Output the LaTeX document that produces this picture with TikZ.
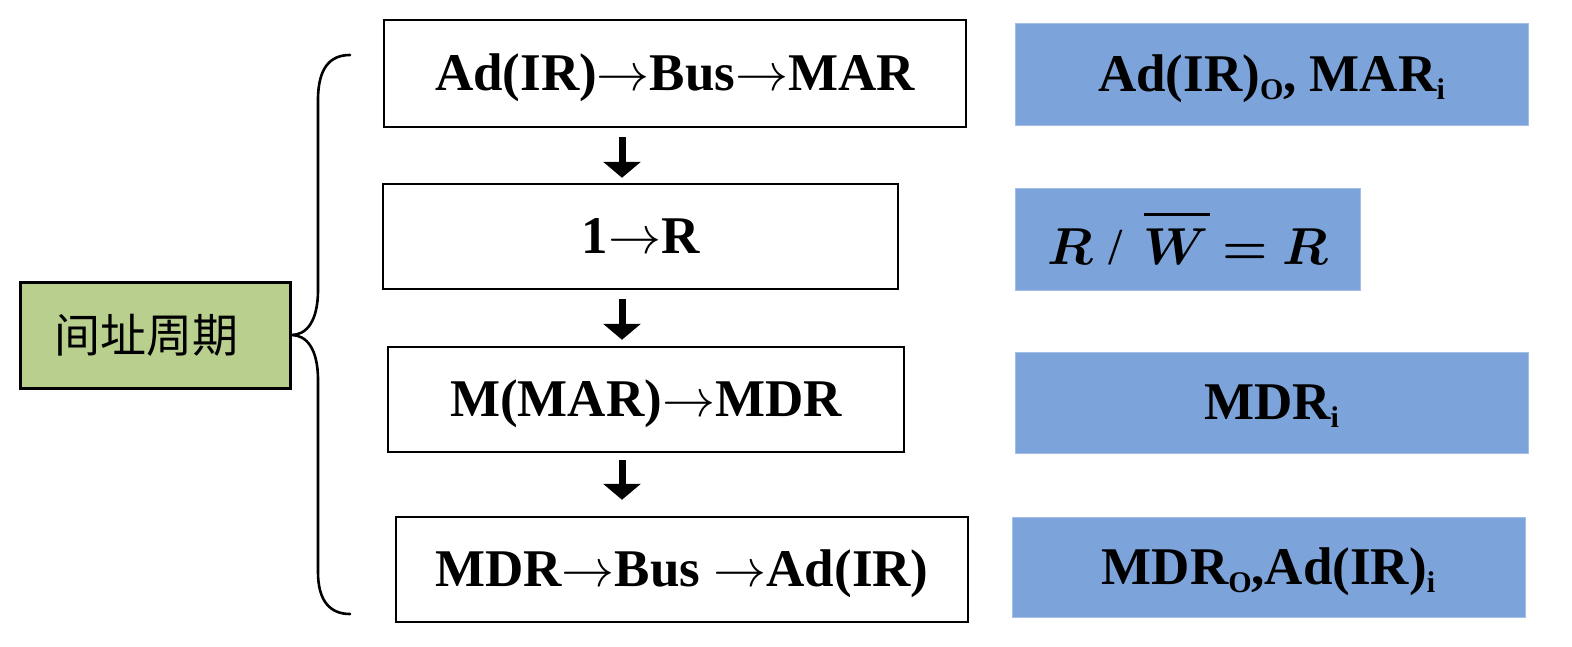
\RequirePackage{fix-cm}
\documentclass[tikz,border=0pt]{standalone}
\usepackage{fontspec}
\setmainfont{Liberation Serif}
\newfontfamily\cjk{Noto Sans CJK SC}
\usetikzlibrary{arrows.meta}
\definecolor{leafgreen}{RGB}{184,207,142}
\definecolor{signalblue}{RGB}{124,164,219}
% long thin arrow between register names
\newcommand{\xfer}{$\rightarrow$}
% small, slightly lowered subscript
\newcommand{\lowsub}[1]{\raisebox{-8pt}{\fontsize{30}{30}\selectfont #1}}
% letter with a detached bar over it
\newsavebox{\barbox}
\newcommand{\barred}[1]{\sbox{\barbox}{#1}\rlap{\hspace{1pt}\rule[49pt]{\wd\barbox}{2.8pt}}\usebox{\barbox}}
\tikzset{
  stepbox/.style={draw=black, line width=2.5pt, fill=white, inner sep=0pt,
    text height=34pt, text depth=0pt,
    font=\fontsize{53}{60}\selectfont\bfseries},
  signalbox/.style={draw=signalblue!70!white, line width=0.8pt, fill=signalblue, inner sep=0pt,
    text height=34pt, text depth=0pt,
    font=\fontsize{53}{60}\selectfont\bfseries},
  cyclebox/.style={draw=black, line width=3pt, fill=leafgreen, inner sep=0pt,
    font=\fontsize{46}{54}\selectfont\cjk},
  flowarrow/.style={line width=7pt, -{Triangle[width=37pt,length=16pt]}},
  bracepath/.style={line width=2.6pt, line cap=round, line join=round},
}
\begin{document}
\begin{tikzpicture}[x=1pt, y=-1pt]
  \useasboundingbox (0,0) rectangle (1572,646);

  % indirect-address cycle label
  \node[cyclebox, minimum width=270pt, minimum height=106pt] (cyc) at (155,335)
    {\hspace*{-17pt}间址周期};

  % micro-operation steps
  \node[stepbox, minimum width=582pt, minimum height=107pt] (s1) at (675,73.5) {Ad(IR)\xfer Bus\xfer MAR};
  \node[stepbox, minimum width=515pt, minimum height=105pt] (s2) at (640.5,236.5) {1\xfer R};
  \node[stepbox, minimum width=516pt, minimum height=105pt] (s3) at (646,399.5) {M(MAR)\xfer MDR};
  \node[stepbox, minimum width=572pt, minimum height=105pt] (s4) at (682,569.5) {MDR\xfer Bus \xfer Ad(IR)};

  % control signals for each step
  \node[signalbox, minimum width=513pt, minimum height=102pt] (c1) at (1271.5,74)
    {Ad(IR)\lowsub{O}, MAR\lowsub{i}};
  \node[signalbox, minimum width=345pt, minimum height=102pt, text height=51pt,
        font=\fontsize{52}{60}\selectfont\boldmath] (c2) at (1187.5,239)
    {$R$\hspace{16pt}/\hspace{20pt}\barred{$W$}\hspace{14pt}$=$\hspace{14pt}$R$};
  \node[signalbox, minimum width=513pt, minimum height=101pt] (c3) at (1271.5,402.5)
    {MDR\lowsub{i}};
  \node[signalbox, minimum width=513pt, minimum height=100pt] (c4) at (1268.5,567)
    {MDR\lowsub{O},Ad(IR)\lowsub{i}};

  % flow arrows between steps
  \coordinate (ax) at (622,0);
  \draw[flowarrow, shorten <=9pt, shorten >=5pt] (s1.south -| ax) -- (s2.north -| ax);
  \draw[flowarrow, shorten <=9pt, shorten >=6pt] (s2.south -| ax) -- (s3.north -| ax);
  \draw[flowarrow, shorten <=7pt, shorten >=16pt] (s3.south -| ax) -- (s4.north -| ax);

  % curly brace grouping the steps
  \coordinate (btop) at (350,55);
  \coordinate (bbot) at (350,614);
  \draw[bracepath] (btop) .. controls (330,55) and (318,68) .. (318,100)
    -- (318,290) .. controls (318,322) and (306,335) .. (cyc.east)
    .. controls (306,335) and (318,348) .. (318,380)
    -- (318,572) .. controls (318,601) and (330,614) .. (bbot);
\end{tikzpicture}
\end{document}
